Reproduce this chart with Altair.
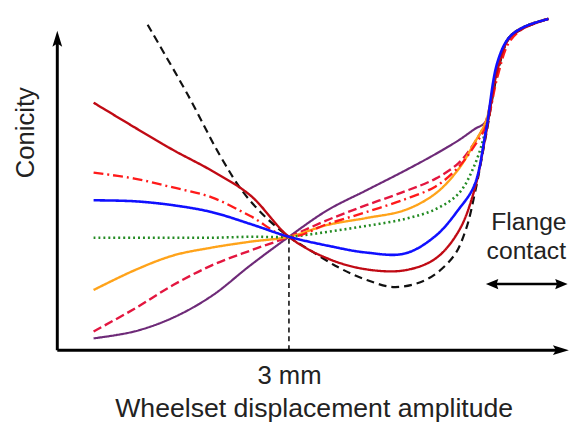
import altair as alt
import pandas as pd

# Wheelset displacement amplitude (mm) grid shared by most curves
x_grid = [0.47, 1.0, 1.5, 2.0, 2.5, 3.0, 3.5, 4.0, 4.5, 4.9, 5.2, 5.4, 5.55, 5.7, 5.85, 6.05, 6.36]

# Conicity values (arbitrary)
dark_red = [0.251, 0.226, 0.203, 0.182, 0.157, 0.115, 0.093, 0.082, 0.081, 0.093, 0.121, 0.162, 0.219, 0.284, 0.316, 0.327, 0.336]
blue = [0.152, 0.151, 0.147, 0.140, 0.128, 0.115, 0.106, 0.099, 0.098, 0.116, 0.143, 0.167, 0.222, 0.292, 0.317, 0.328, 0.336]
green_dotted = [0.114, 0.114, 0.114, 0.114, 0.115, 0.115, 0.120, 0.126, 0.133, 0.143, 0.159, 0.187, 0.224, 0.287, 0.317, 0.328, 0.336]
orange = [0.061, 0.081, 0.096, 0.104, 0.110, 0.115, 0.127, 0.134, 0.142, 0.159, 0.184, 0.210, 0.232, 0.287, 0.317, 0.328, 0.336]
red_dashed = [0.019, 0.042, 0.066, 0.086, 0.101, 0.115, 0.132, 0.147, 0.161, 0.174, 0.190, 0.210, 0.232, 0.286, 0.317, 0.328, 0.336]
red_dashdot = [0.180, 0.174, 0.165, 0.155, 0.136, 0.115, 0.128, 0.140, 0.153, 0.166, 0.186, 0.207, 0.227, 0.277, 0.312, 0.327, 0.336]
purple = [0.012, 0.019, 0.033, 0.055, 0.086, 0.115, 0.142, 0.162, 0.182, 0.199, 0.213, 0.224, 0.232, 0.287, 0.317, 0.328, 0.336]

# Black dashed curve has its own x positions
x_black = [1.17, 1.69, 2.11, 2.41, 2.71, 3.00, 3.26, 3.64, 3.98, 4.37, 4.79, 5.13, 5.29, 5.41, 5.55, 5.71, 5.85, 6.05, 6.36]
black_dashed = [0.330, 0.259, 0.197, 0.160, 0.134, 0.115, 0.102, 0.084, 0.072, 0.064, 0.072, 0.095, 0.122, 0.160, 0.217, 0.284, 0.316, 0.327, 0.336]

# Reference point
x_ref = [3.0]
y_ref = [0.115]
x_tick_label = [3]

# Axis / annotation geometry in data units
axis_x_end = [6.51]
axis_y_end = [0.315]
flange_arrow_x = [5.64, 6.52]
flange_arrow_y = [0.067]
flange_text = ["Flange", "contact"]
flange_text_x = [5.62, 5.56]
flange_text_y = [0.122, 0.092]

FONT = "Liberation Sans"
X_DOMAIN = [0, 6.64]
Y_DOMAIN = [0, 0.342]

xs = alt.Scale(domain=X_DOMAIN)
ys = alt.Scale(domain=Y_DOMAIN)

curves = [
    ("black dashed", x_black, black_dashed, "#111111", [8, 5], 2.2),
    ("purple", x_grid, purple, "#6E2A78", [1, 0], 2.2),
    ("red dashed", x_grid, red_dashed, "#E3163F", [9, 4], 2.4),
    ("orange", x_grid, orange, "#FFA31A", [1, 0], 2.4),
    ("green dotted", x_grid, green_dotted, "#238B23", [2, 3], 2.6),
    ("red dash-dot", x_grid, red_dashdot, "#FF1A1A", [10, 4, 2, 4], 2.4),
    ("dark red", x_grid, dark_red, "#C00A14", [1, 0], 2.4),
    ("blue", x_grid, blue, "#1010FF", [1, 0], 2.6),
]

layers = []

base_df = pd.DataFrame({"x": x_ref, "y": y_ref})
axis_layer = alt.Chart(base_df).mark_point(opacity=0).encode(
    x=alt.X("x:Q", scale=xs,
            axis=alt.Axis(values=x_tick_label, labelExpr="datum.value + ' mm'",
                          ticks=False, domain=False, grid=False,
                          labelFontSize=26, labelFont=FONT, labelColor="#222",
                          labelPadding=13,
                          title="Wheelset displacement amplitude",
                          titleFontSize=27, titleFont=FONT, titleFontWeight="normal",
                          titleColor="#222", titlePadding=7)),
    y=alt.Y("y:Q", scale=ys,
            axis=alt.Axis(values=[], ticks=False, domain=False, grid=False, labels=False,
                          title="Conicity", titleFontSize=26, titleFont=FONT,
                          titleFontWeight="normal", titleColor="#222",
                          titleX=-19, titleY=121)),
)
layers.append(axis_layer)

vline_df = pd.DataFrame({"x": x_ref, "y": [0.0], "y2": y_ref})
layers.append(alt.Chart(vline_df).mark_rule(color="#111", strokeWidth=1.6, strokeDash=[5, 4]).encode(
    x=alt.X("x:Q", scale=xs), y=alt.Y("y:Q", scale=ys), y2="y2:Q"))

for name, xv, yv, color, dash, w in curves:
    df = pd.DataFrame({"x": xv, "y": yv})
    layers.append(alt.Chart(df).mark_line(color=color, strokeDash=dash, strokeWidth=w,
                                          interpolate="catmull-rom").encode(
        x=alt.X("x:Q", scale=xs), y=alt.Y("y:Q", scale=ys)))

xaxis_df = pd.DataFrame({"x": [0.0], "x2": axis_x_end, "y": [0.0]})
layers.append(alt.Chart(xaxis_df).mark_rule(color="black", strokeWidth=3).encode(
    x=alt.X("x:Q", scale=xs), x2="x2:Q", y=alt.Y("y:Q", scale=ys)))
yaxis_df = pd.DataFrame({"x": [0.0], "y": [0.0], "y2": axis_y_end})
layers.append(alt.Chart(yaxis_df).mark_rule(color="black", strokeWidth=3).encode(
    x=alt.X("x:Q", scale=xs), y=alt.Y("y:Q", scale=ys), y2="y2:Q"))

ARROW = "M0,-1L0.55,0.8L0,0.45L-0.55,0.8Z"
arrows_df = pd.DataFrame({"x": [0.0, axis_x_end[0]], "y": [axis_y_end[0], 0.0], "a": [0, 90]})
layers.append(alt.Chart(arrows_df).mark_point(shape=ARROW, filled=True, color="black",
                                              size=324, opacity=1, strokeWidth=0).encode(
    x=alt.X("x:Q", scale=xs), y=alt.Y("y:Q", scale=ys), angle=alt.Angle("a:Q", scale=None)))

fl_df = pd.DataFrame({"x": [flange_arrow_x[0]], "x2": [flange_arrow_x[1]], "y": flange_arrow_y})
layers.append(alt.Chart(fl_df).mark_rule(color="black", strokeWidth=2.5).encode(
    x=alt.X("x:Q", scale=xs), x2="x2:Q", y=alt.Y("y:Q", scale=ys)))
HEAD = "M0,-1L0.75,0.8L0,0.55L-0.75,0.8Z"
fh_df = pd.DataFrame({"x": flange_arrow_x, "y": flange_arrow_y * 2, "a": [270, 90]})
layers.append(alt.Chart(fh_df).mark_point(shape=HEAD, filled=True, color="black",
                                          size=196, opacity=1, strokeWidth=0).encode(
    x=alt.X("x:Q", scale=xs), y=alt.Y("y:Q", scale=ys), angle=alt.Angle("a:Q", scale=None)))

ft_df = pd.DataFrame({"x": flange_text_x, "y": flange_text_y, "t": flange_text})
layers.append(alt.Chart(ft_df).mark_text(align="left", baseline="alphabetic", font=FONT,
                                         fontSize=25, color="#222").encode(
    x=alt.X("x:Q", scale=xs), y=alt.Y("y:Q", scale=ys), text="t:N"))

chart = alt.layer(*layers).properties(
    width=520, height=342,
    autosize=alt.AutoSizeParams(type="none"),
    padding={"left": 50, "top": 2, "right": 1, "bottom": 81},
).configure_view(stroke=None)

chart.save("out.html", embed_options={"renderer": "svg", "actions": False})
